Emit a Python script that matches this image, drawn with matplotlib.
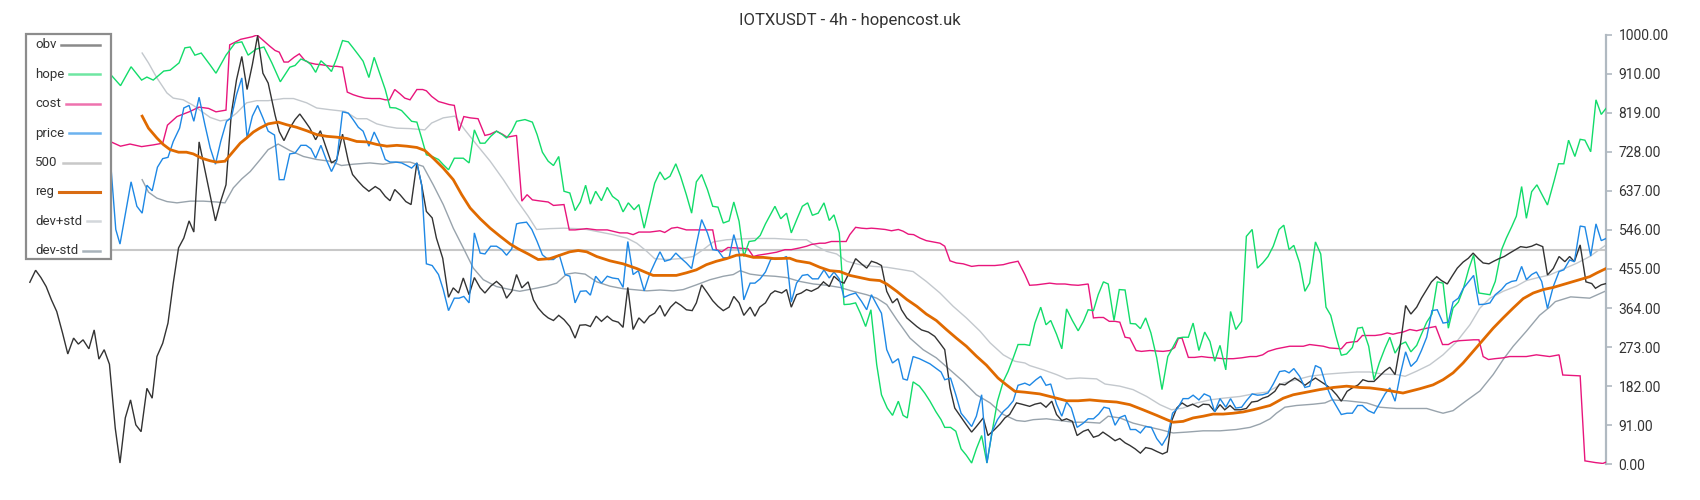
import matplotlib
matplotlib.use("Agg")
import matplotlib.pyplot as plt
from matplotlib.lines import Line2D
from matplotlib.patches import Rectangle

plt.rcParams['font.family'] = ['Roboto', 'DejaVu Sans']

title = "IOTXUSDT - 4h - hopencost.uk"
yticks = [0, 91, 182, 273, 364, 455, 546, 637, 728, 819, 910, 1000]
n_candles = 300
level_500 = 500

# (candle index, value) pairs
obv = [
(0.1,424),(1.2,452),(2.2,435),(3.2,414),(4.2,383),(5.2,356),(6.3,306),(7.3,257),(8.4,294),(9.3,280),
(10.2,290),(11.3,269),(12.3,313),(13.2,245),(14.2,267),(15.2,233),(16.3,84),(17.2,3),(18.2,108),(19.2,150),
(20.2,92),(21.2,76),(22.3,177),(23.3,154),(24.2,251),(25.3,282),(26.3,329),(27.3,422),(28.3,504),(29.3,527),
(30.3,567),(31.2,541),(32.2,751),(35.3,567),(36.3,613),(37.3,651),(38.3,816),(39.3,896),(40.3,950),(41.3,873),
(42.3,931),(43.3,999),(44.3,911),(45.3,888),(46.6,814),(47.4,775),(48.3,754),(49.4,783),(50.4,803),(51.3,816),
(52.3,799),(53.2,783),(54.3,756),(55.2,777),(56.3,737),(57.3,702),(58.3,710),(59.4,769),(60.5,706),(61.3,675),
(62.4,659),(63.3,647),(64.4,636),(65.6,647),(66.5,640),(67.5,624),(68.4,614),(69.3,640),(70.3,628),(71.4,612),
(72.4,605),(73.5,702),(74.4,651),(75.3,589),(76.4,574),(77.2,527),(78.4,480),(79.5,389),(80.4,411),(81.4,399),
(82.3,434),(83.4,395),(84.4,435),(85.5,411),(86.4,399),(87.5,415),(88.6,426),(89.6,415),(90.5,387),(91.5,403),
(92.4,442),(93.4,411),(94.6,425),(95.6,383),(96.5,364),(97.5,350),(98.4,341),(99.4,335),(100.4,347),(101.4,337),
(102.5,321),(103.5,294),(104.4,324),(105.5,325),(106.4,321),(107.5,345),(108.5,333),(109.6,345),(110.6,335),(111.7,331),
(112.6,319),(113.5,412),(114.5,314),(115.6,341),(116.6,329),(117.6,345),(118.6,352),(119.6,370),(120.5,345),(121.6,366),
(122.6,378),(123.6,370),(124.6,360),(125.7,358),(126.5,376),(127.5,418),(128.6,399),(129.6,381),(130.6,368),(131.6,358),
(132.7,366),(133.6,391),(134.6,376),(135.5,347),(136.7,366),(137.6,345),(138.5,366),(139.6,376),(140.6,397),(141.4,404),
(142.7,399),(143.6,407),(144.5,366),(145.5,395),(146.4,399),(147.4,407),(148.3,403),(149.6,411),(150.6,425),(151.7,414),
(152.6,438),(153.7,426),(154.5,422),(155.6,449),(156.7,479),(157.8,467),(158.8,457),(159.7,473),(160.7,469),(161.6,463),
(162.6,403),(163.7,376),(164.6,386),(165.4,360),(166.4,341),(168.3,321),(169.2,313),(170.5,308),(171.7,298),(172.7,282),
(173.6,267),(174.6,178),(175.5,131),(176.8,108),(177.7,92),(178.7,75),(179.6,88),(180.9,108),(181.8,67),(182.8,78),
(184.1,94),(185.0,108),(185.9,116),(187.2,143),(188.2,140),(189.7,135),(190.7,140),(191.8,143),(192.8,133),(193.9,147),
(194.8,116),(195.8,102),(196.7,106),(197.8,100),(198.7,67),(199.9,77),(200.8,81),(201.8,63),(202.8,67),(203.6,75),
(204.8,65),(205.9,55),(206.8,60),(207.8,50),(208.7,44),(209.7,36),(210.7,26),(211.7,39),(212.8,36),(213.8,30),
(214.9,24),(215.8,29),(216.6,100),(217.6,131),(218.6,143),(219.6,135),(220.6,140),(221.7,133),(222.6,140),(223.7,139),
(224.8,123),(225.8,139),(226.7,127),(227.7,137),(228.6,127),(229.7,127),(230.8,130),(231.8,145),(232.9,147),(233.9,154),
(234.9,158),(236.2,170),(237.1,187),(238.1,185),(239.0,193),(240.0,201),(241.1,192),(241.9,184),(242.8,192),(243.9,201),
(244.9,193),(246.0,184),(247.0,174),(247.9,162),(248.8,147),(249.9,170),(250.9,178),(252.0,185),(252.9,197),(253.9,193),
(255.0,193),(256.0,205),(257.1,218),(258.0,226),(259.0,209),(260.0,279),(261.0,370),(262.0,350),(263.1,366),(264.0,387),
(265.0,407),(265.9,425),(266.9,437),(267.8,428),(268.9,420),(269.8,438),(270.8,457),(271.9,471),(272.9,480),(273.8,492),
(274.8,479),(275.7,469),(276.8,467),(277.7,473),(278.7,479),(279.7,484),(280.6,491),(281.7,499),(282.8,507),(283.9,505),
(284.9,508),(285.8,513),(287.0,507),(287.9,441),(289.0,456),(290.1,484),(291.2,472),(292.1,484),(293.0,472),(294.1,511),
(295.2,425),(296.3,421),(297.0,410),(298.1,418),(299.0,421)]

hope = [
(15.5,907),(17.3,882),(19.3,926),(21.3,895),(22.3,902),(23.5,895),(25.5,916),(26.7,918),(28.4,935),(29.5,970),
(30.5,972),(31.4,953),(32.6,958),(34.3,930),(35.4,911),(37.3,953),(39.0,981),(40.3,984),(41.5,953),(43.0,967),
(44.5,972),(46.0,935),(47.6,891),(49.4,925),(50.4,929),(51.5,944),(52.6,939),(53.4,931),(54.3,913),(55.3,940),
(56.3,929),(57.3,915),(58.3,946),(59.4,987),(60.5,984),(61.4,970),(62.4,954),(63.3,939),(64.4,901),(65.4,948),
(66.4,912),(67.5,873),(68.4,831),(69.5,830),(70.6,824),(71.6,811),(72.5,799),(73.5,797),(74.4,760),(75.3,721),
(76.4,717),(77.6,710),(78.5,698),(79.5,686),(80.6,713),(82.3,713),(83.4,702),(84.4,779),(85.5,748),(86.4,748),
(87.5,764),(88.6,776),(89.7,768),(90.5,760),(91.5,776),(92.4,799),(94.0,803),(95.4,797),(96.3,768),(97.3,727),
(98.4,706),(99.4,696),(100.4,717),(101.4,636),(102.5,632),(103.5,591),(104.5,611),(105.5,650),(106.4,606),(107.4,636),
(108.5,614),(109.6,645),(110.6,624),(111.7,614),(112.6,588),(113.6,609),(114.7,593),(115.6,605),(116.6,550),(118.6,655),
(119.6,681),(120.5,663),(121.5,671),(122.6,700),(123.5,671),(124.6,628),(125.6,585),(126.5,658),(127.5,675),(128.6,640),
(129.6,601),(130.6,599),(131.6,562),(132.7,567),(133.6,611),(134.6,566),(135.5,484),(136.5,519),(137.6,521),(138.6,533),
(139.6,560),(140.6,583),(141.4,601),(142.5,572),(143.6,585),(144.5,539),(145.6,572),(146.6,601),(147.6,609),(148.5,580),
(149.6,585),(150.7,609),(151.7,568),(152.6,581),(153.6,539),(154.5,372),(155.6,373),(156.7,376),(157.6,352),(158.6,321),
(159.6,360),(160.7,232),(161.6,162),(162.7,131),(163.7,114),(164.8,147),(165.7,114),(166.5,108),(167.6,192),(168.8,182),
(169.8,166),(170.8,147),(171.9,123),(172.9,104),(173.6,86),(174.7,86),(175.7,77),(176.7,36),(177.7,21),(178.7,3),
(179.6,36),(180.6,67),(181.6,3),(182.6,77),(183.6,147),(184.7,193),(185.6,216),(186.6,248),(187.5,279),(188.8,279),
(189.7,277),(190.7,329),(191.8,366),(192.8,325),(193.7,335),(194.8,303),(195.8,269),(196.7,362),(197.8,335),(198.9,311),
(199.9,333),(200.8,360),(201.8,358),(202.7,395),(203.7,425),(204.6,420),(205.7,335),(206.7,407),(207.8,406),(208.8,328),
(209.8,327),(210.7,316),(211.7,341),(212.7,306),(213.8,248),(214.8,174),(215.9,251),(216.8,271),(217.8,294),(218.8,296),
(219.8,296),(220.7,329),(221.8,265),(222.9,308),(223.9,286),(224.8,240),(225.8,277),(226.9,220),(227.8,356),(228.8,314),
(229.9,333),(230.8,531),(231.9,547),(232.9,457),(233.9,469),(234.9,484),(235.9,508),(237.0,547),(237.9,557),(238.9,500),
(239.8,510),(240.9,469),(241.9,403),(242.8,422),(243.9,518),(244.9,490),(245.9,366),(246.8,347),(247.8,298),(248.8,254),
(249.8,257),(250.9,272),(251.9,317),(252.8,319),(254.0,275),(255.0,197),(256.0,236),(257.1,271),(258.0,296),(259.0,259),
(260.0,279),(261.0,285),(262.0,262),(263.1,277),(264.0,303),(265.0,331),(266.0,350),(267.0,425),(268.1,422),(269.1,317),
(270.0,364),(271.0,378),(271.9,407),(273.0,456),(273.9,488),(274.9,399),(276.0,397),(277.0,395),(278.0,426),(279.2,500),
(280.1,527),(281.1,553),(282.0,578),(283.0,647),(283.9,573),(284.9,635),(285.9,651),(287.9,604),(289.2,662),(290.0,700),
(291.0,700),(291.9,755),(293.1,717),(294.1,757),(295.0,755),(296.1,728),(297.1,849),(298.1,815),(299.0,829)]

cost = [
(15.5,751),(17.3,741),(19.1,746),(21.3,740),(23.5,744),(25.3,748),(26.2,790),(28.0,810),(30.3,821),(32.2,832),
(34.0,829),(35.4,821),(37.3,825),(38.0,977),(40.1,990),(42.3,996),(43.2,1000),(45.6,974),(46.6,964),(47.4,960),
(48.3,937),(49.1,937),(50.2,948),(51.2,956),(52.3,940),(53.2,935),(54.3,932),(55.3,931),(56.3,929),(57.3,927),
(58.3,927),(59.4,925),(60.3,867),(61.4,861),(62.4,857),(63.7,853),(64.9,852),(66.5,852),(67.5,849),(68.3,849),
(69.3,873),(70.3,863),(71.2,853),(72.2,849),(73.5,873),(74.6,873),(75.3,870),(76.3,857),(77.6,845),(78.5,842),
(79.6,838),(80.6,836),(81.5,777),(82.4,810),(83.6,807),(85.1,805),(86.4,766),(87.4,769),(88.6,776),(89.7,769),
(90.6,762),(92.4,766),(93.4,613),(94.4,628),(95.4,616),(96.5,614),(98.4,611),(99.4,603),(101.4,605),(102.4,546),
(103.5,546),(105.7,549),(107.6,546),(109.6,546),(112.0,539),(113.4,539),(114.5,535),(115.6,541),(117.7,541),(119.6,544),
(120.5,540),(121.8,550),(122.9,552),(124.6,546),(126.5,546),(129.6,546),(130.3,500),(131.3,495),(132.5,505),(134.1,504),
(136.3,502),(137.3,484),(138.2,487),(139.8,490),(141.7,494),(143.3,500),(144.5,500),(146.1,504),(147.4,508),(148.3,512),
(149.9,515),(150.9,515),(152.1,519),(154.9,519),(155.6,535),(156.7,552),(157.8,550),(158.8,549),(159.7,550),(160.7,549),
(162.3,547),(163.5,544),(164.8,547),(165.7,543),(166.7,536),(167.7,535),(168.9,527),(170.1,521),(171.4,518),(172.7,515),
(173.6,508),(174.6,474),(175.8,469),(177.1,467),(178.7,461),(180.0,463),(183.1,463),(184.7,465),(185.9,469),(187.5,473),
(188.8,442),(189.7,417),(191.0,418),(192.3,420),(193.5,422),(194.8,420),(196.4,420),(197.6,418),(198.9,417),(200.8,420),
(201.8,341),(202.8,342),(203.7,342),(204.8,333),(205.9,333),(206.8,331),(207.8,296),(208.7,294),(209.9,265),(210.9,263),
(212.5,265),(215.0,263),(216.3,265),(217.2,272),(217.9,293),(218.6,294),(219.8,249),(221.0,249),(222.3,251),(223.6,249),
(224.8,248),(226.4,246),(228.3,246),(229.9,248),(231.5,251),(232.7,251),(233.9,255),(234.9,263),(236.5,269),(237.8,272),
(239.0,275),(241.6,275),(242.8,279),(244.1,277),(245.4,275),(246.6,271),(248.8,269),(249.8,283),(250.9,285),(251.8,286),
(252.8,300),(255.2,300),(256.4,302),(257.5,306),(258.6,303),(259.6,306),(260.5,308),(261.8,314),(263.1,311),(264.0,314),
(265.0,317),(266.7,321),(268.0,279),(269.1,279),(270.1,286),(271.3,288),(273.9,290),(274.9,290),(275.7,251),(276.7,244),
(277.9,246),(279.5,248),(280.7,251),(283.9,251),(285.8,255),(288.3,251),(290.1,255),(290.8,208),(294.1,206),(295.0,8),
(297.0,4),(298.4,2),(299.0,5)]

price = [
(15.4,706),(16.4,547),(17.2,513),(19.3,658),(20.4,601),(21.4,585),(22.3,650),(23.3,637),(24.3,692),(25.3,712),
(26.3,715),(27.3,752),(28.5,783),(29.3,830),(30.3,836),(31.2,799),(32.2,855),(33.3,791),(34.3,737),(35.3,699),
(36.3,752),(37.4,799),(38.3,807),(39.3,861),(40.3,900),(41.3,760),(42.3,811),(43.3,836),(44.3,807),(45.3,776),
(46.5,767),(47.4,663),(48.3,663),(49.4,723),(50.4,725),(51.5,743),(52.5,743),(53.4,735),(54.3,713),(55.3,743),
(56.3,710),(57.3,682),(58.3,707),(59.4,821),(60.5,818),(61.4,803),(62.4,785),(63.3,776),(64.4,741),(65.4,774),
(66.4,748),(67.5,710),(68.4,704),(69.5,704),(70.6,702),(71.6,696),(72.5,690),(73.5,702),(74.4,651),(75.3,467),
(76.4,463),(77.6,442),(78.5,407),(79.5,358),(80.6,387),(81.5,387),(82.4,391),(83.4,376),(84.4,539),(85.5,492),
(86.4,490),(87.5,508),(88.6,508),(89.6,500),(90.5,487),(91.5,502),(92.4,560),(93.0,562),(94.3,564),(95.3,547),
(96.3,519),(97.3,488),(98.4,477),(99.4,477),(100.5,488),(101.6,442),(102.5,438),(103.5,376),(104.5,403),(105.6,404),
(106.4,394),(107.4,438),(108.5,422),(109.6,438),(110.6,434),(111.7,432),(112.6,412),(113.5,519),(114.5,442),(115.5,451),
(116.6,404),(117.6,442),(118.6,469),(119.6,495),(120.5,473),(121.6,477),(122.6,492),(123.6,480),(124.6,469),(125.6,456),
(126.5,512),(127.5,570),(128.6,539),(129.6,500),(130.6,498),(131.6,481),(132.7,481),(133.6,535),(134.6,492),(135.5,383),
(136.7,422),(137.6,422),(138.6,432),(139.6,448),(140.6,477),(141.4,480),(142.7,479),(143.6,484),(144.5,378),(145.5,422),
(146.6,440),(147.6,442),(148.5,432),(149.6,432),(150.7,453),(151.7,434),(152.6,448),(153.6,432),(154.5,389),(155.6,395),
(156.7,399),(157.8,380),(158.8,360),(159.7,395),(160.7,372),(161.6,352),(162.6,267),(163.7,236),(164.8,246),(165.7,199),
(166.5,196),(167.6,251),(168.8,246),(169.8,240),(170.8,234),(171.9,224),(172.9,215),(173.6,197),(174.7,201),(175.7,162),
(176.7,119),(177.7,104),(178.7,88),(179.6,112),(180.6,162),(181.6,3),(182.6,77),(183.6,104),(184.7,123),(185.6,133),
(186.6,148),(187.5,184),(188.8,189),(189.7,184),(190.9,197),(191.8,205),(192.8,184),(193.7,187),(194.8,140),(195.8,112),
(196.7,145),(197.6,131),(198.7,86),(199.9,96),(200.8,106),(201.8,106),(202.8,117),(203.8,133),(204.8,130),(205.9,91),
(206.8,109),(207.8,114),(208.8,81),(209.8,81),(210.7,73),(211.7,88),(212.8,86),(213.8,60),(214.8,44),(215.9,67),
(216.8,119),(217.8,131),(218.8,153),(219.8,153),(220.7,161),(221.8,150),(222.8,164),(223.9,158),(224.8,122),(225.8,153),
(226.9,133),(227.8,153),(228.8,131),(229.9,133),(230.8,148),(231.9,164),(232.9,161),(233.9,162),(234.9,166),(235.9,187),
(237.1,216),(238.1,218),(238.9,213),(239.8,223),(240.9,205),(241.9,179),(242.8,182),(243.9,230),(244.9,224),(245.9,185),
(246.9,156),(247.9,135),(248.8,116),(249.9,119),(250.9,119),(251.9,137),(252.8,137),(253.9,125),(255.0,119),(256.0,140),
(257.1,164),(258.0,178),(259.0,147),(260.0,210),(261.0,262),(262.0,228),(263.1,241),(264.0,265),(265.0,296),(266.0,358),
(267.0,360),(268.1,329),(269.1,331),(270.0,378),(271.0,387),(271.9,409),(273.0,426),(273.9,440),(274.9,372),(276.0,373),
(277.0,376),(278.0,395),(279.2,407),(280.1,420),(281.1,426),(282.0,428),(283.0,461),(283.9,430),(284.9,442),(285.8,448),
(286.8,426),(287.9,363),(289.0,414),(290.1,449),(291.0,453),(292.1,476),(293.0,472),(294.1,555),(295.0,553),(296.1,485),
(297.1,560),(298.1,521),(299.0,526)]

reg = [
(21.4,811),(22.6,783),(24.2,760),(25.4,745),(26.7,733),(28.3,727),(29.8,727),(31.1,723),(32.7,713),(34.3,707),
(35.5,704),(37.1,706),(38.7,729),(40.0,748),(41.2,760),(42.5,774),(43.7,783),(45.3,793),(47.2,797),(48.8,791),
(50.7,785),(52.6,777),(54.5,768),(56.4,764),(58.3,762),(60.2,759),(62.1,752),(64.0,751),(65.9,745),(67.8,741),
(69.7,743),(71.6,741),(73.5,738),(75.0,731),(76.6,713),(78.5,690),(80.4,663),(82.0,628),(83.6,597),(85.5,572),
(87.4,550),(89.3,531),(91.2,513),(92.7,502),(94.6,490),(96.5,477),(98.7,479),(100.6,487),(102.5,495),(104.1,498),
(105.7,495),(107.6,484),(110.1,474),(112.6,467),(115.2,456),(117.1,446),(118.3,440),(120.2,440),(122.7,440),(124.6,446),
(126.5,453),(128.4,465),(130.3,473),(132.2,479),(134.1,487),(135.4,488),(137.3,482),(139.2,482),(141.4,479),(144.2,480),
(145.5,474),(148.0,469),(149.9,459),(151.8,451),(153.7,449),(155.6,440),(157.5,435),(159.4,430),(161.3,428),(162.6,420),
(164.5,403),(166.4,384),(168.3,368),(170.1,350),(172.0,335),(173.9,314),(175.8,294),(177.7,275),(179.6,252),(181.5,231),
(183.7,201),(185.3,185),(186.9,170),(188.8,168),(191.6,164),(194.2,156),(196.7,148),(198.9,148),(201.1,150),(203.7,147),
(206.2,145),(208.7,139),(211.2,127),(213.8,114),(215.7,104),(216.9,98),(218.8,100),(220.7,108),(222.6,112),(224.5,117),
(226.4,117),(228.3,119),(230.2,122),(232.1,127),(234.0,133),(235.3,137),(236.2,143),(237.8,154),(239.7,162),(242.2,168),
(244.7,174),(247.3,179),(249.8,182),(252.3,179),(254.2,178),(256.7,174),(258.6,170),(260.5,166),(261.8,170),(263.7,176),
(266.2,185),(268.1,197),(270.0,213),(271.9,236),(273.8,263),(275.7,290),(277.6,317),(279.5,341),(281.4,364),(283.3,386),
(285.2,399),(287.1,407),(289.0,412),(291.2,420),(293.7,429),(295.9,437),(297.3,446),(299.0,456)]

dev_plus_std = [
(21.4,958),(22.6,935),(24.2,900),(26.1,865),(27.3,853),(29.2,849),(31.1,836),(32.7,822),(34.3,808),(36.2,800),
(37.7,803),(39.3,818),(41.2,842),(43.1,847),(45.3,847),(48.2,852),(50.1,852),(52.6,842),(54.5,830),(57.0,826),
(59.9,822),(62.1,805),(64.0,805),(65.9,793),(67.8,787),(69.7,783),(72.2,782),(75.0,779),(76.3,795),(78.5,807),
(80.7,811),(82.6,779),(84.8,745),(87.4,706),(89.9,663),(92.4,616),(94.6,578),(96.2,547),(98.7,549),(101.3,550),
(103.8,549),(105.7,547),(108.2,541),(110.7,535),(113.3,527),(115.2,515),(117.1,496),(118.6,479),(120.9,477),(123.4,479),
(125.9,484),(127.8,500),(129.7,518),(132.2,523),(134.8,525),(137.3,526),(141.4,526),(145.5,523),(147.4,523),(149.3,508),
(151.2,496),(153.1,490),(155.0,473),(157.5,465),(160.0,461),(162.6,459),(165.7,453),(167.6,449),(170.1,426),(172.7,399),
(175.2,368),(177.7,341),(180.3,310),(182.2,283),(184.7,255),(186.9,240),(188.8,236),(189.7,230),(192.3,220),(194.8,209),
(196.7,199),(199.2,201),(202.4,199),(204.0,187),(206.8,182),(209.3,174),(211.9,158),(214.4,139),(216.6,127),(218.8,131),
(221.4,143),(223.9,150),(226.4,154),(229.6,158),(232.1,164),(234.6,168),(236.2,178),(237.8,189),(240.3,197),(242.8,205),
(246.0,210),(249.2,213),(251.7,215),(254.2,215),(256.7,210),(259.3,209),(260.9,205),(263.1,217),(265.6,232),(268.1,255),
(270.7,286),(273.2,325),(275.1,364),(277.0,387),(279.5,403),(282.0,415),(283.9,428),(285.8,434),(288.3,441),(293.4,468),
(295.9,484),(299.0,511)]

dev_minus_std = [
(21.4,663),(22.6,634),(24.2,620),(26.1,612),(28.0,609),(30.5,613),(33.0,613),(35.5,611),(37.1,609),(38.7,644),
(40.3,665),(41.9,682),(43.8,710),(45.3,733),(47.2,746),(49.4,731),(52.0,717),(54.5,710),(57.0,706),(59.2,696),
(61.4,699),(64.6,702),(67.1,699),(69.7,704),(72.2,704),(74.7,694),(76.6,651),(78.5,605),(80.4,550),(82.3,504),
(84.2,457),(86.1,430),(88.6,414),(91.2,407),(93.0,403),(95.6,409),(98.1,415),(100.0,422),(101.9,443),(103.5,446),
(105.4,443),(107.6,425),(110.1,415),(112.6,409),(114.5,407),(117.1,404),(119.6,406),(122.1,404),(124.0,407),(126.5,418),
(129.1,430),(131.6,438),(133.5,442),(134.8,451),(136.7,443),(138.6,440),(141.4,438),(143.6,435),(146.1,426),(148.7,420),
(151.2,417),(153.7,412),(156.2,403),(158.8,395),(160.7,387),(162.6,372),(164.5,337),(167.0,294),(169.5,267),(172.0,248),
(174.6,220),(177.1,193),(179.6,162),(182.2,143),(184.7,116),(187.2,102),(188.8,100),(190.4,104),(192.9,106),(195.4,102),
(198.0,98),(200.5,98),(203.0,96),(204.6,112),(206.8,108),(209.3,96),(211.9,88),(214.4,81),(216.9,73),(219.5,75),
(222.6,78),(225.8,78),(228.9,81),(231.5,86),(233.4,94),(235.3,106),(236.5,119),(238.1,133),(240.3,137),(243.5,140),
(245.7,143),(247.0,150),(249.8,148),(253.6,143),(256.1,133),(259.3,130),(262.4,130),(265.0,130),(266.9,123),(268.1,119),
(270.0,125),(272.5,148),(275.1,171),(277.6,209),(279.5,244),(281.4,275),(283.9,310),(286.4,347),(288.3,366),(289.4,379),
(292.3,390),(295.9,387),(299.0,404)]

legend_labels = ["obv", "hope", "cost", "price", "500", "reg", "dev+std", "dev-std"]

# ---------------------------------------------------------------
W, H = 1700, 500
fig = plt.figure(figsize=(W / 100, H / 100), dpi=100)
ax = fig.add_axes([29.3 / W, 1 - 464.3 / H, (1606 - 29.3) / W, (464.3 - 35) / H])
ax.set_xlim(0, n_candles - 1)
ax.set_ylim(0, 1000)


def draw(series, **kw):
    t, v = zip(*series)
    ax.plot(t, v, solid_joinstyle='miter', **kw)


ax.axhline(level_500, color='#c8c8c8', lw=1.5, zorder=1)
draw(dev_plus_std, color='#c3c8cd', lw=1.0, zorder=2)
draw(dev_minus_std, color='#98a3ac', lw=1.0, zorder=2)
draw(cost, color='#e8157c', lw=1.0, zorder=3)
draw(hope, color='#12dc6a', lw=1.0, zorder=3)
draw(obv, color='#333333', lw=1.0, zorder=4)
draw(price, color='#1e88e5', lw=1.0, zorder=5)
draw(reg, color='#e06a00', lw=2.0, zorder=6)

for s in ['top', 'left', 'bottom']:
    ax.spines[s].set_visible(False)
ax.spines['right'].set_color('#b0b9c1')
ax.spines['right'].set_linewidth(1.6)
ax.set_xticks([])
ax.yaxis.tick_right()
ax.set_yticks(yticks)
ax.set_yticklabels([f"{v:.2f}" for v in yticks])
ax.tick_params(axis='y', direction='out', length=4, width=1.2, color='#b0b9c1',
               labelsize=10, labelcolor='#333333', pad=5)

fig.text(0.5, 1 - 21 / H, title, ha='center', va='center', fontsize=12, color='#333333')

# legend box (upper-left, text first then line sample)
legend_colors = ['#8a8a8a', '#6fe6a2', '#ee72ae', '#6cb2ef', '#c8c8c8', '#d96c12', '#d3d7db', '#a8b2ba']
legend_lw = [1.8, 1.8, 1.8, 1.8, 1.8, 2.2, 1.8, 1.8]
box = Rectangle((26 / W, 1 - 259 / H), 85 / W, 225 / H, transform=fig.transFigure,
                facecolor='white', edgecolor='#8c8c8c', lw=1.6, zorder=20)
fig.add_artist(box)
renderer = fig.canvas.get_renderer()
for i, lab in enumerate(legend_labels):
    y = 1 - (45 + 29.4 * i) / H
    txt = fig.text(35 / W, y, lab, fontsize=9.5, color='#333333', ha='left', va='center', zorder=21)
    bb = txt.get_window_extent(renderer)
    fig.add_artist(Line2D([(bb.x1 + 5) / W, 100 / W], [y, y], transform=fig.transFigure,
                          color=legend_colors[i], lw=legend_lw[i], zorder=21))

fig.savefig("out.png", dpi=100, facecolor='white')
